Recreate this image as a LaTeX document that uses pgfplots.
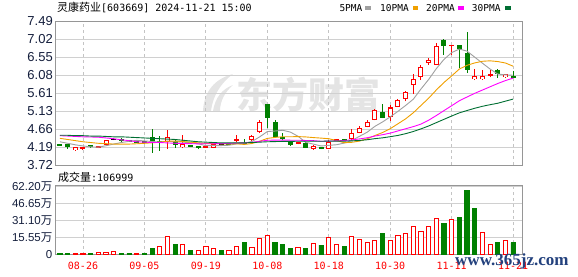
\documentclass[border=0pt]{standalone}
\usepackage{fontspec}
\setmainfont{Liberation Sans}
\newfontfamily\cjk{Noto Sans CJK SC}
\newfontfamily\mono{DejaVu Sans Mono}
\newfontfamily\wmserif{Liberation Serif}
\usepackage{pgfplots}
\usepackage{pgfplotstable}
\pgfplotsset{compat=1.18}
\definecolor{cred}{RGB}{255,0,0}
\definecolor{cgreen}{RGB}{0,128,0}
\definecolor{cma5}{RGB}{160,160,160}
\definecolor{cma10}{RGB}{240,160,0}
\definecolor{cma20}{RGB}{255,0,255}
\definecolor{cma30}{RGB}{0,110,50}
\definecolor{cframe}{RGB}{150,150,150}
\definecolor{cgrid}{RGB}{208,208,208}
\definecolor{cgridv}{RGB}{196,196,196}
\definecolor{clabel}{RGB}{20,30,60}
\definecolor{cwm}{RGB}{228,228,228}
\definecolor{cwww}{RGB}{35,65,125}

% red hollow candles
\pgfplotstableread{
i o h l c
2 4.11 4.19 4.10 4.19
6 4.25 4.38 4.23 4.38
14 4.33 4.63 4.14 4.46
16 4.18 4.50 4.16 4.26
20 4.17 4.27 4.16 4.26
25 4.38 4.50 4.36 4.49
26 4.59 4.90 4.56 4.86
33 4.14 4.24 4.12 4.22
35 4.15 4.37 4.13 4.33
38 4.39 4.67 4.36 4.57
39 4.57 4.74 4.55 4.70
40 4.73 4.90 4.71 4.86
41 4.90 5.18 4.89 5.16
43 4.97 5.29 4.87 5.23
44 5.25 5.46 5.24 5.43
45 5.45 5.65 5.39 5.63
46 5.82 6.10 5.58 5.98
47 6.02 6.34 5.96 6.30
48 6.40 6.54 6.35 6.48
49 6.35 6.91 6.34 6.85
54 5.97 6.25 5.95 6.06
55 5.97 6.22 5.95 6.06
58 6.02 6.12 6.01 6.10
}\upH
% red small candles
\pgfplotstableread{
i o h l c
3 4.17 4.19 4.11 4.18
5 4.19 4.23 4.16 4.20
19 4.20 4.24 4.16 4.21
23 4.38 4.51 4.33 4.39
31 4.30 4.33 4.26 4.31
36 4.38 4.41 4.36 4.39
51 6.86 6.88 6.62 6.87
56 6.09 6.21 6.02 6.10
}\upS
% flat candles
\pgfplotstableread{
i o h l c
7 4.40 4.44 4.37 4.40
21 4.26 4.28 4.24 4.26
}\flT
% green candles
\pgfplotstableread{
i o h l c
0 4.25 4.26 4.22 4.24
1 4.27 4.28 4.15 4.19
4 4.24 4.25 4.17 4.19
8 4.39 4.44 4.32 4.38
9 4.36 4.37 4.33 4.35
10 4.34 4.35 4.31 4.33
11 4.34 4.35 4.30 4.33
12 4.46 4.67 4.04 4.32
13 4.34 4.48 4.09 4.32
15 4.35 4.37 4.16 4.25
17 4.23 4.25 4.19 4.22
18 4.21 4.22 4.14 4.20
22 4.27 4.29 4.25 4.26
24 4.30 4.40 4.24 4.29
27 5.31 5.32 4.68 4.96
28 4.86 4.90 4.44 4.46
29 4.46 4.55 4.38 4.39
30 4.33 4.35 4.22 4.25
32 4.31 4.32 4.16 4.17
34 4.18 4.19 4.14 4.15
37 4.40 4.41 4.37 4.38
42 5.12 5.32 4.95 4.96
50 7.00 7.03 6.61 6.85
52 6.87 6.88 6.27 6.77
53 6.65 7.20 6.13 6.21
57 6.21 6.24 6.00 6.11
59 6.06 6.20 6.00 6.01
}\dnT
% moving averages
\pgfplotstableread{
i m5 m10 m20 m30
0 4.330 4.420 4.490 4.500
1 4.290 4.390 4.480 4.500
2 4.250 4.360 4.470 4.490
3 4.220 4.330 4.460 4.490
4 4.196 4.310 4.455 4.480
5 4.188 4.290 4.450 4.480
6 4.226 4.280 4.430 4.470
7 4.270 4.270 4.410 4.460
8 4.310 4.270 4.380 4.460
9 4.342 4.269 4.360 4.450
10 4.368 4.278 4.330 4.440
11 4.352 4.289 4.320 4.430
12 4.336 4.303 4.310 4.420
13 4.324 4.317 4.310 4.410
14 4.346 4.344 4.300 4.400
15 4.330 4.349 4.290 4.390
16 4.322 4.337 4.285 4.370
17 4.302 4.319 4.280 4.350
18 4.278 4.301 4.275 4.330
19 4.228 4.287 4.278 4.320
20 4.230 4.280 4.279 4.310
21 4.230 4.276 4.283 4.300
22 4.238 4.270 4.287 4.300
23 4.276 4.277 4.297 4.300
24 4.292 4.260 4.302 4.300
25 4.338 4.284 4.317 4.310
26 4.458 4.344 4.341 4.320
27 4.598 4.418 4.369 4.330
28 4.612 4.444 4.373 4.335
29 4.632 4.462 4.375 4.339
30 4.584 4.461 4.371 4.340
31 4.474 4.466 4.371 4.344
32 4.316 4.457 4.364 4.343
33 4.268 4.440 4.359 4.345
34 4.220 4.426 4.343 4.343
35 4.236 4.410 4.347 4.348
36 4.252 4.363 4.354 4.348
37 4.294 4.305 4.362 4.347
38 4.364 4.316 4.380 4.354
39 4.474 4.347 4.405 4.365
40 4.580 4.408 4.435 4.383
41 4.734 4.493 4.480 4.412
42 4.850 4.572 4.515 4.433
43 4.982 4.673 4.557 4.463
44 5.128 4.801 4.614 4.496
45 5.282 4.931 4.671 4.542
46 5.446 5.090 4.727 4.599
47 5.714 5.282 4.794 4.668
48 5.964 5.473 4.895 4.744
49 6.248 5.688 5.018 4.832
50 6.492 5.887 5.148 4.919
51 6.670 6.058 5.276 5.006
52 6.764 6.239 5.406 5.089
53 6.710 6.337 5.505 5.150
54 6.552 6.400 5.601 5.209
55 6.394 6.443 5.687 5.261
56 6.240 6.455 5.773 5.303
57 6.108 6.436 5.859 5.341
58 6.086 6.398 5.936 5.396
59 6.076 6.314 6.001 5.450
}\maT
% volume (10k)
\pgfplotstableread{
i v
2 1.0
3 1.0
5 1.8
6 1.8
7 2.7
10 1.0
13 7.3
14 16.4
16 9.1
18 3.6
19 7.3
20 5.5
22 3.6
23 7.3
25 6.4
26 14.2
27 17.3
31 6.1
33 10.0
35 15.2
36 9.1
38 16.1
39 13.3
40 10.9
41 12.4
43 12.4
44 17.0
45 19.1
46 25.2
47 20.9
48 25.2
49 32.4
51 31.5
55 19.7
56 8.8
58 12.4
}\volR
\pgfplotstableread{
i v
0 1.2
1 1.2
4 1.2
8 1.2
9 1.2
11 1.2
12 5.5
15 9.1
17 3.9
21 3.9
24 11.2
28 11.2
29 9.1
30 5.5
32 5.5
34 8.5
37 7.3
42 19.4
50 28.5
52 33.6
53 58.2
54 41.8
57 10.9
59 10.9
}\volG

\pgfplotsset{
  wick/.style={draw=none, mark=none, forget plot,
    error bars/.cd, y dir=plus, y explicit, error mark=none,
    error bar style={draw=#1, line width=1pt, solid}},
  body/.style 2 args={draw=none, mark=none, forget plot,
    error bars/.cd, y dir=both, y explicit, error mark=none,
    error bar style={draw=#1, line width=#2, solid}},
  frame/.style={axis line style={draw=cframe, line width=1pt},
    major tick length=0pt,
    ymajorgrids, xmajorgrids,
    y grid style={draw=cgrid, line width=0.8pt},
    x grid style={draw=cgridv, line width=0.8pt, dash pattern=on 3pt off 3pt},
    xmin=-0.58, xmax=60.2,
    xtick={3,11,19,27,35,43,51,59}}
}

\begin{document}
\begin{tikzpicture}[x=1pt,y=1pt]
\useasboundingbox (0,0) rectangle (578,276);

% watermark
\fill[cwm] (203,165) .. controls (204,184) and (214,197) .. (233,202) .. controls (221,193) and (213,181) .. (211,165) -- cycle;
\fill[cwm] (213,165) .. controls (215,178) and (222,187) .. (233,191) .. controls (225,184) and (220,175) .. (220,165) -- cycle;
\node[anchor=base, inner sep=0, text=cwm, font=\cjk\bfseries\fontsize{36}{36}\selectfont] at (308,167) {东方财富};

% header
\node[anchor=base west, inner sep=0] at (57,264) {{\cjk\fontsize{11}{11}\selectfont 灵康药业}{\mono\fontsize{10}{10}\selectfont [603669] 2024-11-21 15:00}};
\node[anchor=base west, inner sep=0, font=\mono\fontsize{9.5}{9.5}\selectfont] at (339.3,264.3) {5PMA};
\fill[cma5] (365,266) rectangle (370.5,270);
\node[anchor=base west, inner sep=0, font=\mono\fontsize{9.5}{9.5}\selectfont] at (380,264.3) {10PMA};
\fill[cma10] (412.7,266) rectangle (418.3,270);
\node[anchor=base west, inner sep=0, font=\mono\fontsize{9.5}{9.5}\selectfont] at (426,264.3) {20PMA};
\fill[cma20] (458.3,266) rectangle (464,270);
\node[anchor=base west, inner sep=0, font=\mono\fontsize{9.5}{9.5}\selectfont] at (471.7,264.3) {30PMA};
\fill[cma30] (505,266) rectangle (510.7,270);

\node[anchor=base west, inner sep=0] at (58,94.7) {{\cjk\fontsize{11}{11}\selectfont 成交量}{\mono\fontsize{10}{10}\selectfont :106999}};

% price panel
\begin{axis}[frame,
  at={(55.5pt,111pt)}, anchor=south west,
  width=466.8pt, height=143.6pt, scale only axis,
  ymin=3.72, ymax=7.49,
  ytick={3.72,4.19125,4.6625,5.13375,5.605,6.07625,6.5475,7.01875,7.49},
  yticklabels={3.72,4.19,4.66,5.13,5.61,6.08,6.55,7.02,7.49},
  yticklabel style={font=\fontsize{13}{13}\selectfont, text=clabel, anchor=base east, xshift=-2.5pt, yshift=-4.6pt, inner sep=0pt},
  xticklabels={},
]
% wicks
\addplot[wick=cred] table[x=i, y=l, y error expr=\thisrow{h}-\thisrow{l}] {\upH};
\addplot[wick=cred] table[x=i, y=l, y error expr=\thisrow{h}-\thisrow{l}] {\upS};
\addplot[wick=black] table[x=i, y=l, y error expr=\thisrow{h}-\thisrow{l}] {\flT};
\addplot[wick=cgreen] table[x=i, y=l, y error expr=\thisrow{h}-\thisrow{l}] {\dnT};
% bodies
\addplot[body={cred}{5pt}] table[x=i, y expr=(\thisrow{o}+\thisrow{c})/2, y error expr={max(abs(\thisrow{c}-\thisrow{o})/2,0.014)}] {\upH};
\addplot[body={white}{3pt}] table[x=i, y expr=(\thisrow{o}+\thisrow{c})/2, y error expr={max(abs(\thisrow{c}-\thisrow{o})/2-0.027,0.001)}] {\upH};
\addplot[body={cred}{5pt}] table[x=i, y expr=(\thisrow{o}+\thisrow{c})/2, y error expr={max(abs(\thisrow{c}-\thisrow{o})/2,0.014)}] {\upS};
\addplot[body={black}{5pt}] table[x=i, y expr=(\thisrow{o}+\thisrow{c})/2, y error expr={max(abs(\thisrow{c}-\thisrow{o})/2,0.014)}] {\flT};
\addplot[body={cgreen}{5pt}] table[x=i, y expr=(\thisrow{o}+\thisrow{c})/2, y error expr={max(abs(\thisrow{c}-\thisrow{o})/2,0.014)}] {\dnT};
% moving averages
\addplot[cma5, line width=0.9pt, mark=none] table[x=i, y=m5] {\maT};
\addplot[cma10, line width=0.9pt, mark=none] table[x=i, y=m10] {\maT};
\addplot[cma20, line width=0.9pt, mark=none] table[x=i, y=m20] {\maT};
\addplot[cma30, line width=0.9pt, mark=none] table[x=i, y=m30] {\maT};
\end{axis}

% volume panel
\begin{axis}[frame,
  at={(55.5pt,21.4pt)}, anchor=south west,
  width=466.8pt, height=68.6pt, scale only axis,
  ymin=0, ymax=62.2,
  ytick={0,15.55,31.1,46.65,62.2},
  yticklabels={0,{15.55{\cjk 万}},{31.10{\cjk 万}},{46.65{\cjk 万}},{62.20{\cjk 万}}},
  yticklabel style={font=\fontsize{11.5}{11.5}\selectfont, text=clabel, anchor=base east, xshift=-3pt, yshift=-4.1pt, inner sep=0pt},
  xticklabels={08-26,09-05,09-19,10-08,10-18,10-30,11-11,11-21},
  xticklabel style={font=\mono\fontsize{10}{10}\selectfont, text=cred, anchor=base, yshift=-15.3pt, inner sep=0pt},
]
\addplot[ybar, bar width=4.2pt, bar shift=0pt, draw=cred, fill=white, line width=0.9pt] table[x=i, y=v] {\volR};
\addplot[ybar, bar width=4.2pt, bar shift=0pt, draw=cgreen, fill=cgreen, line width=0.9pt] table[x=i, y=v] {\volG};
\end{axis}

\node[anchor=base west, inner sep=0, text=cwww, font=\wmserif\bfseries\fontsize{17}{17}\selectfont] at (455,11) {www.365jz.com};
\end{tikzpicture}
\end{document}
